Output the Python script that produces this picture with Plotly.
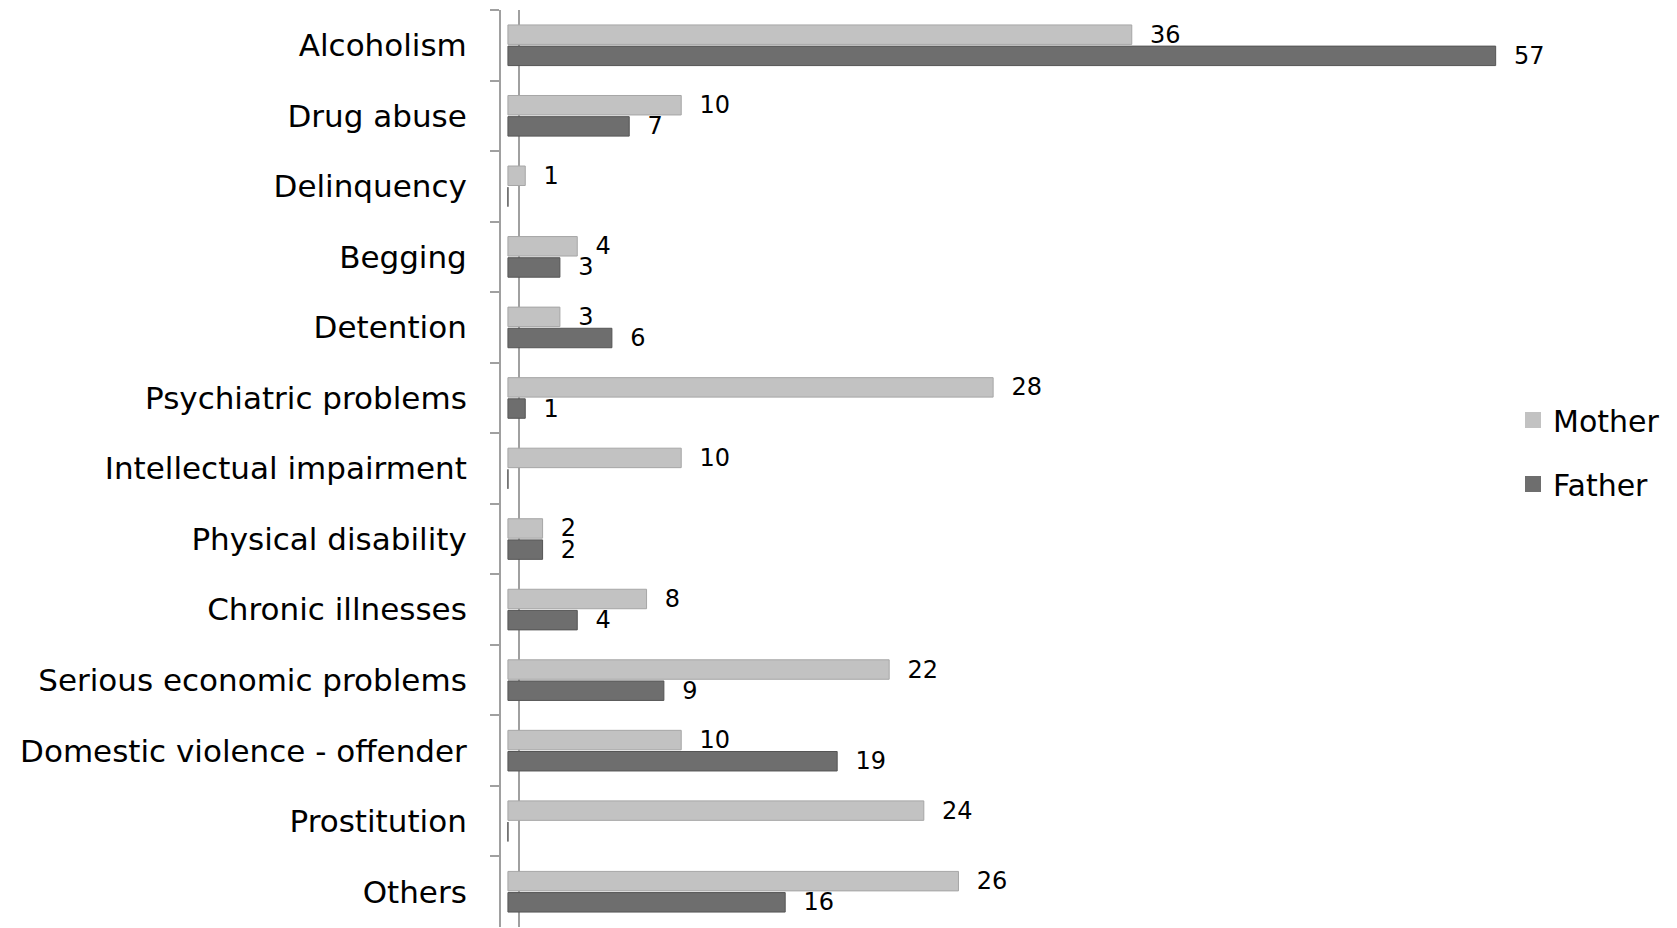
import plotly.graph_objects as go

categories = ["Alcoholism", "Drug abuse", "Delinquency", "Begging", "Detention",
              "Psychiatric problems", "Intellectual impairment", "Physical disability",
              "Chronic illnesses", "Serious economic problems",
              "Domestic violence - offender", "Prostitution", "Others"]
mother = [36, 10, 1, 4, 3, 28, 10, 2, 8, 22, 10, 24, 26]
father = [57, 7, 0, 3, 6, 1, 0, 2, 4, 9, 19, 0, 16]

series_names = ["Mother", "Father"]
series_colors = ["#C2C2C2", "#6E6E6E"]
series_lines = ["#A6A6A6", "#555555"]

FONT = "DejaVu Sans"
W, H = 1677, 928
L, R, T, B = 501, 164, 10, 1

def labels(vals):
    return ["\u00a0\u00a0" + str(v) if v else "" for v in vals]

fig = go.Figure()
for name, vals, col, lcol in zip(series_names, [mother, father], series_colors, series_lines):
    fig.add_trace(go.Bar(
        y=categories, x=vals, name=name, orientation="h",
        marker=dict(color=col, line=dict(color=lcol, width=1)),
        text=labels(vals), textposition="outside", cliponaxis=False,
        constraintext="none",
        textfont=dict(family=FONT, size=24, color="#000000"),
        showlegend=False,
    ))
# legend entries with larger square swatches
for name, col in zip(series_names, series_colors):
    fig.add_trace(go.Scatter(
        x=[None], y=[None], mode="markers", name=name,
        marker=dict(symbol="square", size=16, color=col),
        legendgroup=name, showlegend=True,
    ))

fig.update_layout(
    width=W, height=H,
    margin=dict(l=L, r=R, t=T, b=B),
    paper_bgcolor="white", plot_bgcolor="white",
    barmode="group", bargap=0.40, bargroupgap=0.08,
    font=dict(family=FONT, color="#000000"),
    showlegend=True,
    legend=dict(x=1.0, xanchor="left", y=0.518, yanchor="middle",
                traceorder="grouped", tracegroupgap=22, itemsizing="trace",
                font=dict(family=FONT, size=30, color="#000000"),
                bgcolor="rgba(0,0,0,0)"),
    xaxis=dict(range=[-0.4, 58], showgrid=False, zeroline=False,
               showticklabels=False, showline=False, ticks=""),
    yaxis=dict(categoryorder="array", categoryarray=categories,
               autorange="reversed", showgrid=False, zeroline=False,
               showline=True, linecolor="#A0A0A0", linewidth=2,
               ticks="outside", tickson="boundaries", ticklen=9,
               tickcolor="#A0A0A0", tickwidth=2,
               ticklabelstandoff=26,
               tickfont=dict(family=FONT, size=31, color="#000000")),
    shapes=[dict(type="line", xref="paper", yref="paper",
                 x0=(519 - L) / (W - L - R), x1=(519 - L) / (W - L - R),
                 y0=0, y1=1, line=dict(color="#A0A0A0", width=2), layer="below")],
)

fig.write_html("out.html")
